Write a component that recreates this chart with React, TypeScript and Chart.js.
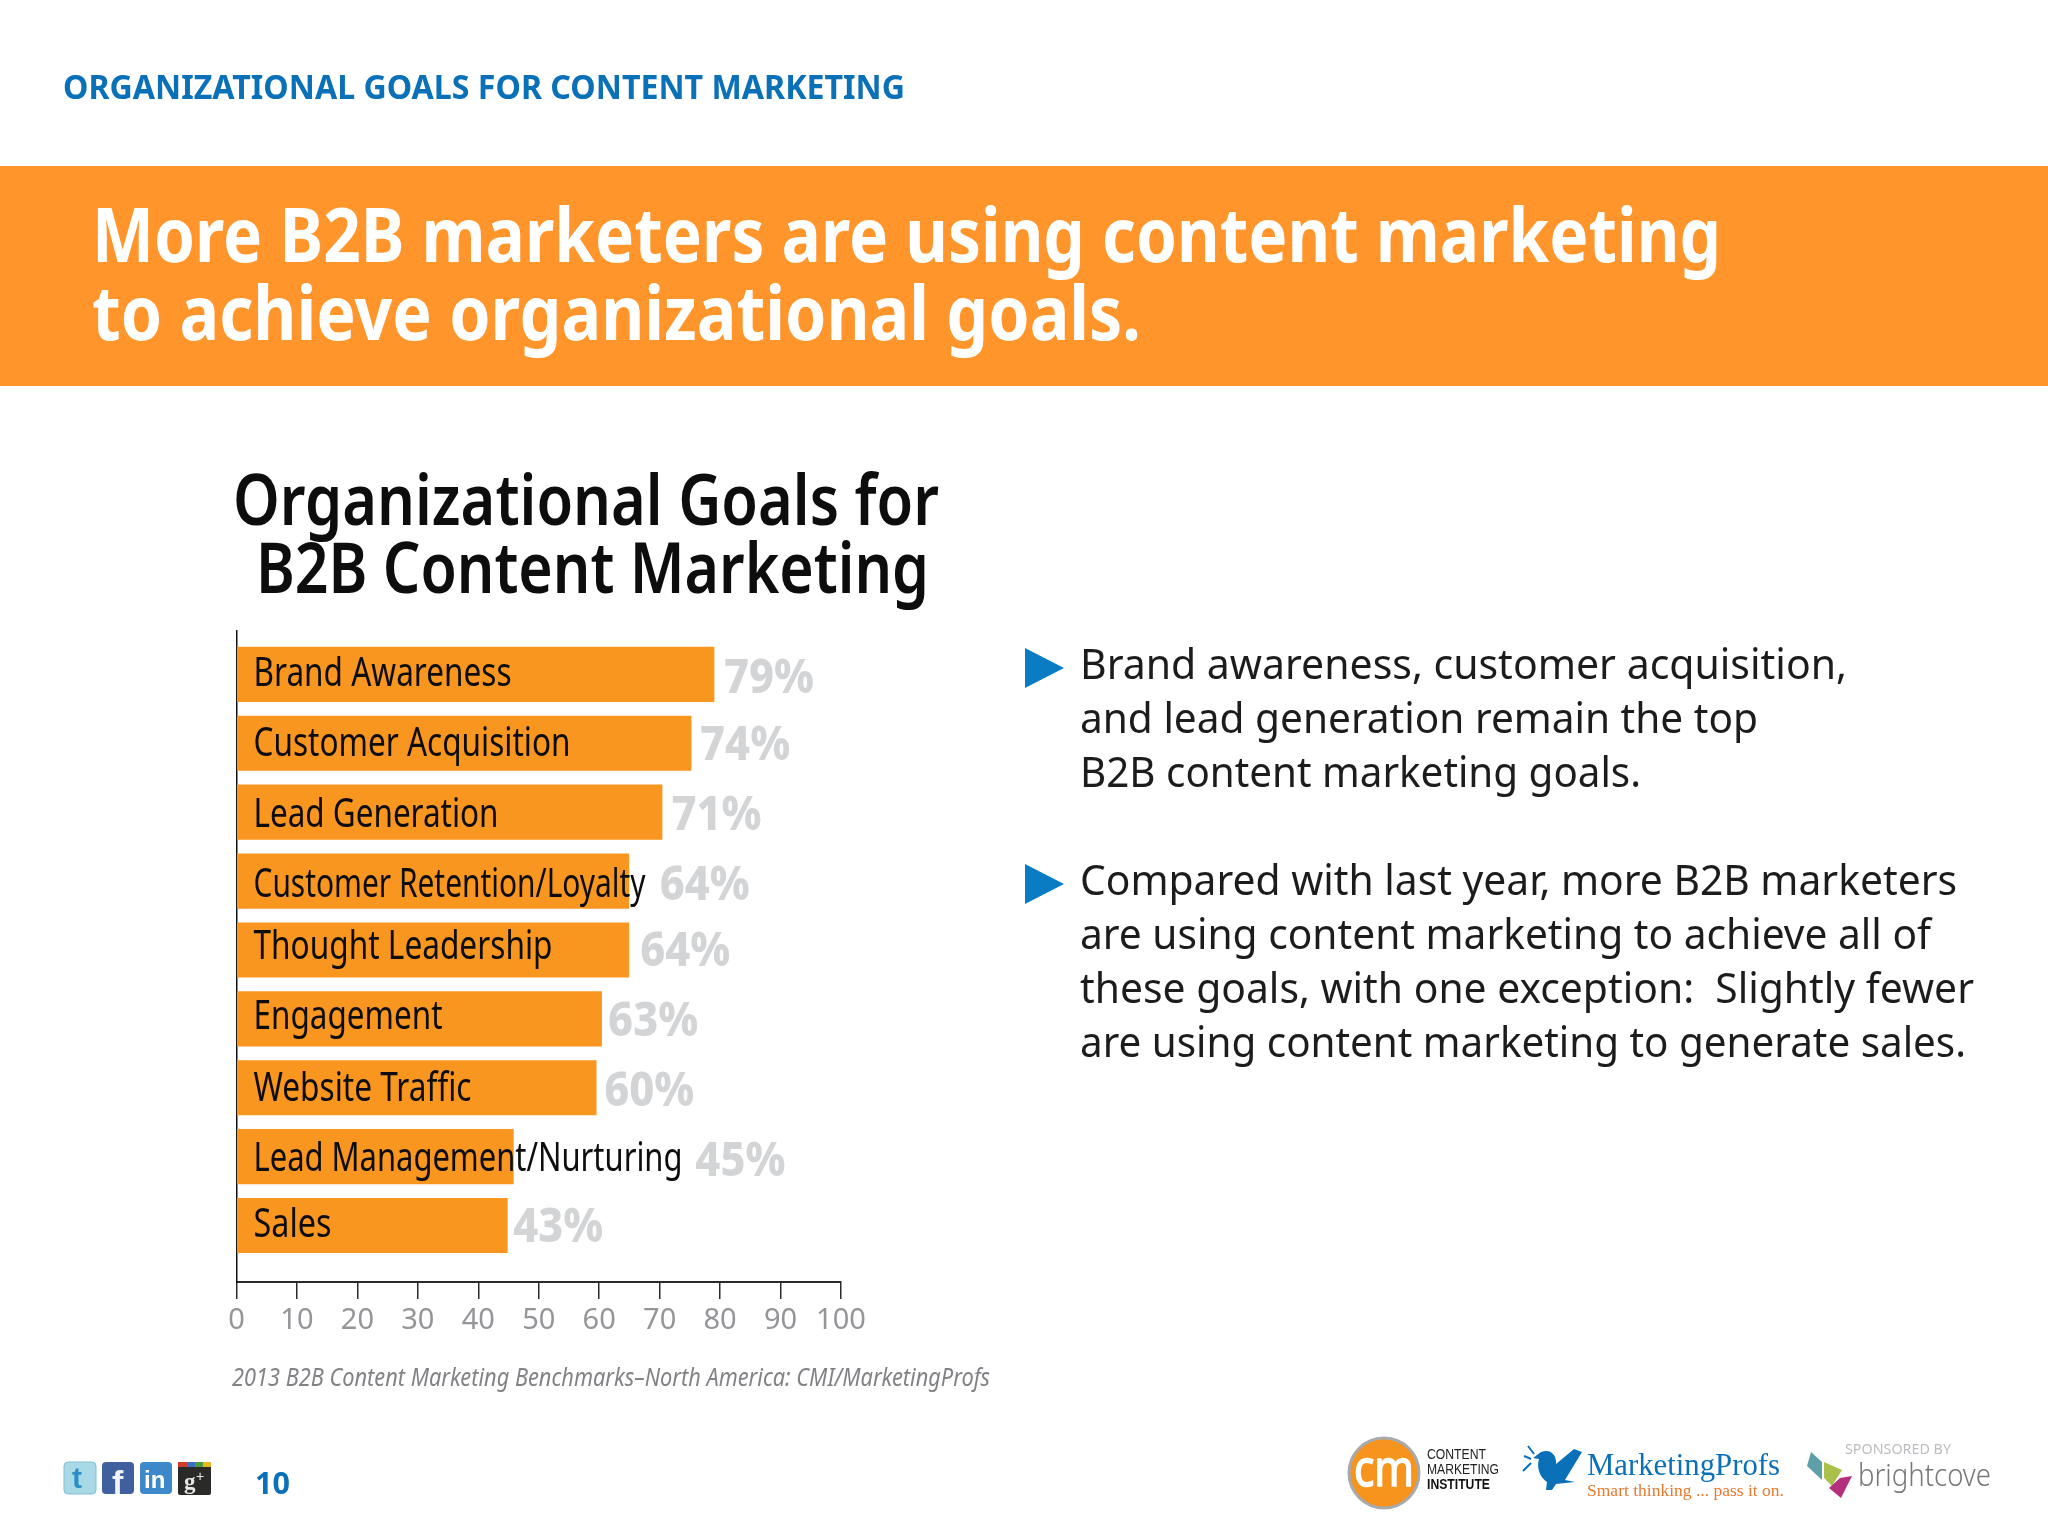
import React, { useEffect, useRef } from "react";
import { Chart, registerables } from "chart.js";

Chart.register(...registerables);

const categories = ["Brand Awareness", "Customer Acquisition", "Lead Generation", "Customer Retention/Loyalty", "Thought Leadership", "Engagement", "Website Traffic", "Lead Management/Nurturing", "Sales"];
// Printed percentages, and the bar lengths as actually drawn in the picture.
const percentLabels = ["79%", "74%", "71%", "64%", "64%", "63%", "60%", "45%", "43%"];
const barLengths = [79, 75.2, 70.4, 64.9, 64.9, 60.4, 59.5, 45.8, 44.8];
const tickValues = [0, 10, 20, 30, 40, 50, 60, 70, 80, 90, 100];

// Layout of the text that sits on and beside the bars.
const nameWidths = [258, 317, 245, 392, 299, 189, 218, 429, 78];
const nameDy = [11.7, 13, 14.7, 16, 9.5, 10.6, 13.7, 14, 11.7];
const pctGap = [10, 9, 9.5, 31, 11.5, 6.5, 8, 182, 6];
const pctDy = [18.7, 16.3, 18, 19, 16.2, 17.3, 18.7, 19, 16];

const labelPlugin = {
  id: "barText",
  afterDatasetsDraw(chart: any) {
    const { ctx, scales } = chart;
    const fit = (s: string, x: number, y: number, w: number, font: string, color: string) => {
      ctx.save();
      ctx.font = font;
      ctx.fillStyle = color;
      ctx.textAlign = "left";
      ctx.textBaseline = "alphabetic";
      const k = w / ctx.measureText(s).width;
      ctx.translate(x, y);
      ctx.scale(k, 1);
      ctx.fillText(s, 0, 0);
      ctx.restore();
    };
    categories.forEach((name, i) => {
      const cy = scales.y.getPixelForValue(i);
      fit(name, 253.5, cy + nameDy[i], nameWidths[i], '400 40px "Noto Sans"', "#0d0d0d");
      fit(percentLabels[i], scales.x.getPixelForValue(barLengths[i]) + pctGap[i], cy + pctDy[i], 90, '800 48px "Noto Sans"', "#d3d4d6");
    });
  },
};

type L = [string, number, number, number];
const headerLines: L[] = [["ORGANIZATIONAL GOALS FOR CONTENT MARKETING", 63, 99, 842]];
const bannerLines: L[] = [
  ["More B2B marketers are using content marketing", 92, 262, 1629],
  ["to achieve organizational goals.", 92, 340, 1049],
];
const titleLines: L[] = [
  ["Organizational Goals for", 233, 525, 706],
  ["B2B Content Marketing", 256, 593, 673],
];
const bulletLines: L[] = [
  ["Brand awareness, customer acquisition,", 1080, 679, 767],
  ["and lead generation remain the top", 1080, 733, 678],
  ["B2B content marketing goals.", 1080, 787, 561],
  ["Compared with last year, more B2B marketers", 1080, 895, 877],
  ["are using content marketing to achieve all of", 1080, 949, 851],
  ["these goals, with one exception:  Slightly fewer", 1080, 1003, 894],
  ["are using content marketing to generate sales.", 1080, 1057, 886],
];

const T = ({ l, size, color, weight = 400, family = "Noto Sans", italic = false }: any) => (
  <text x={l[1]} y={l[2]} textLength={l[3]} lengthAdjust="spacingAndGlyphs" fontSize={size} fill={color} fontWeight={weight} fontFamily={family} fontStyle={italic ? "italic" : "normal"} xmlSpace="preserve">
    {l[0]}
  </text>
);

const Overlay = () => (
  <svg width={2048} height={1536} style={{ position: "absolute", left: 0, top: 0 }}>
    <rect x={0} y={166} width={2048} height={220} fill="#ff952b" />
    {headerLines.map((l, i) => <T key={i} l={l} size={34} color="#0a70b8" weight={700} />)}
    {bannerLines.map((l, i) => <T key={i} l={l} size={76} color="#ffffff" weight={700} />)}
    {titleLines.map((l, i) => <T key={i} l={l} size={71} color="#0d0d0d" weight={600} />)}
    {bulletLines.map((l, i) => <T key={i} l={l} size={42} color="#1c1c1c" />)}
    <polygon points="1025,648 1064,668 1025,688" fill="#0a7cc4" />
    <polygon points="1025,864 1064,884 1025,904" fill="#0a7cc4" />
    <T l={["2013 B2B Content Marketing Benchmarks\u2013North America: CMI/MarketingProfs", 232, 1386, 758]} size={25} color="#808285" italic />
    <T l={["10", 255, 1494, 35]} size={31} color="#0a70b8" weight={700} />

    {/* social icons */}
    <rect x={64} y={1462} width={32} height={32} rx={4} fill="#a9d8e6" stroke="#7fbfd0" />
    <text x={72} y={1488} fontSize={30} fontWeight={700} fontFamily="Liberation Sans" fill="#2a8fc9">t</text>
    <rect x={102} y={1462} width={32} height={32} rx={4} fill="#3f5f9f" />
    <text x={112} y={1494} fontSize={34} fontWeight={700} fontFamily="Liberation Sans" fill="#f2f4f8">f</text>
    <rect x={140} y={1462} width={32} height={32} rx={4} fill="#3c88c8" />
    <text x={144} y={1488} fontSize={24} fontWeight={700} fontFamily="Liberation Sans" fill="#ffffff">in</text>
    <rect x={178} y={1462} width={33} height={33} rx={2} fill="#2a2a28" />
    <rect x={178} y={1462} width={9} height={5} fill="#d13a2a" />
    <rect x={187} y={1462} width={8} height={5} fill="#3c6fc4" />
    <rect x={195} y={1462} width={8} height={5} fill="#4a9c3c" />
    <rect x={203} y={1462} width={8} height={5} fill="#e6b820" />
    <text x={184} y={1489} fontSize={23} fontWeight={700} fontFamily="Liberation Serif" fill="#e8e8e8">g</text>
    <text x={196} y={1481} fontSize={14} fontFamily="Liberation Sans" fill="#e8e8e8">+</text>

    {/* Content Marketing Institute */}
    <circle cx={1384} cy={1473} r={35} fill="#f7941e" stroke="#a7a9ac" strokeWidth={3} />
    <text x={1384} y={1486} textAnchor="middle" fontSize={50} fontWeight={400} fontFamily="Noto Sans" fill="#ffffff" stroke="#ffffff" strokeWidth={1.5} textLength={60} lengthAdjust="spacingAndGlyphs">cm</text>
    <T l={["CONTENT", 1427, 1459, 59]} size={14} color="#222" family="Liberation Sans" />
    <T l={["MARKETING", 1427, 1474, 72]} size={14} color="#222" family="Liberation Sans" />
    <T l={["INSTITUTE", 1427, 1489, 63]} size={14} color="#111" weight={700} family="Liberation Sans" />

    {/* MarketingProfs */}
    <path d="M1541,1452 C1551,1448 1557,1456 1556,1464 L1574,1449 L1582,1452 L1565,1480 L1575,1482 L1556,1484 L1552,1490 L1546,1490 L1547,1482 C1536,1474 1538,1462 1539,1459 L1533,1458 Z" fill="#0a70b8" />
    <path d="M1524,1456 L1531,1459 M1528,1446 L1534,1454 M1523,1471 L1531,1463" stroke="#0a70b8" strokeWidth={2} fill="none" />
    <T l={["MarketingProfs", 1587, 1475, 193]} size={32} color="#0a70b8" family="Liberation Serif" />
    <T l={["Smart thinking ... pass it on.", 1587, 1496, 197]} size={17} color="#e8792e" family="Liberation Serif" />

    {/* brightcove */}
    <T l={["SPONSORED BY", 1845, 1454, 106]} size={14} color="#bcbdc0" />
    <polygon points="1811,1452 1822,1462 1822,1480 1807,1466" fill="#5f9fa8" />
    <polygon points="1824,1462 1842,1470 1832,1486 1824,1478" fill="#a9c04a" />
    <polygon points="1852,1476 1841,1498 1829,1488 1840,1478" fill="#b5307c" />
    <T l={["brightcove", 1858, 1486, 133]} size={32} color="#77787b" weight={300} />
  </svg>
);

export default function App() {
  const ref = useRef<HTMLCanvasElement>(null);
  useEffect(() => {
    const chart = new Chart(ref.current as HTMLCanvasElement, {
      type: "bar",
      data: {
        datasets: [
          {
            label: "Organizational goals",
            data: barLengths.map((v, i) => ({ x: v, y: i })),
            backgroundColor: "#f8961f",
            barThickness: 54.5,
          },
        ],
      },
      options: {
        indexAxis: "y",
        responsive: false,
        animation: false,
        layout: { padding: { left: 236.5, top: 631, right: 1207, bottom: 194 } },
        plugins: { legend: { display: false }, tooltip: { enabled: false } },
        scales: {
          x: {
            type: "linear",
            min: 0,
            max: 100,
            afterBuildTicks: (s: any) => { s.ticks = tickValues.map((value) => ({ value })); },
            afterFit: (s: any) => { s.height = 60; },
            border: { color: "#2a2a2a", width: 2 },
            grid: { display: true, drawOnChartArea: false, drawTicks: true, tickLength: 17, color: "#2a2a2a", lineWidth: 1.5 },
            ticks: { color: "#939598", padding: 4, maxRotation: 0, autoSkip: false, font: { family: '"Noto Sans"', size: 29 } },
          },
          y: {
            type: "linear",
            reverse: true,
            offset: false,
            min: -0.63,
            max: 8.82,
            afterFit: (s: any) => { s.width = 0; },
            border: { color: "#111", width: 1.5 },
            grid: { display: false, offset: false },
            ticks: { display: false },
          },
        },
      } as any,
      plugins: [labelPlugin],
    });
    return () => chart.destroy();
  }, []);
  return (
    <div style={{ position: "absolute", left: 0, top: 0, width: 2048, height: 1536, background: "#fff", overflow: "hidden" }}>
      <canvas ref={ref} width={2048} height={1536} style={{ position: "absolute", left: 0, top: 0, display: "block" }} />
      <Overlay />
    </div>
  );
}
